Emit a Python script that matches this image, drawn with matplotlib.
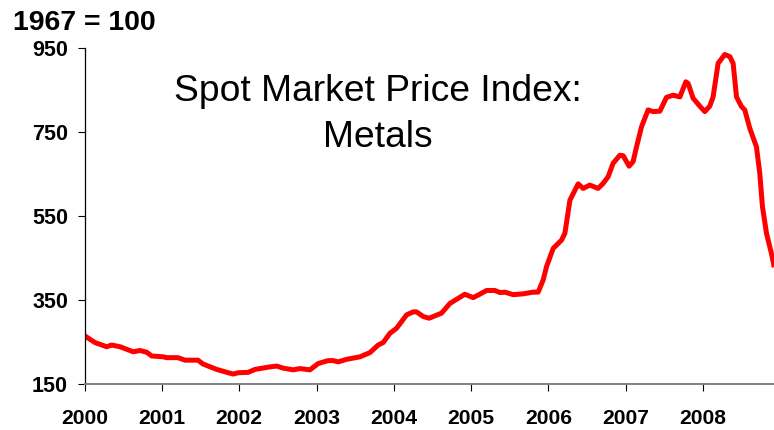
import matplotlib
matplotlib.use("Agg")
import matplotlib.pyplot as plt

plt.rcParams['font.family'] = ['Liberation Sans', 'DejaVu Sans']

# decimal year and index level (1967 = 100)
years = [2000.017, 2000.133, 2000.285, 2000.349, 2000.457, 2000.629, 2000.715,
         2000.802, 2000.867, 2001.017, 2001.061, 2001.207, 2001.298, 2001.466,
         2001.530, 2001.708, 2001.880, 2001.922, 2001.987, 2002.116, 2002.203,
         2002.397, 2002.484, 2002.569, 2002.699, 2002.785, 2002.915, 2003.022,
         2003.151, 2003.216, 2003.281, 2003.389, 2003.562, 2003.691, 2003.798,
         2003.863, 2003.950, 2004.036, 2004.166, 2004.251, 2004.295, 2004.380,
         2004.458, 2004.618, 2004.725, 2004.919, 2005.027, 2005.092, 2005.201,
         2005.308, 2005.373, 2005.437, 2005.545, 2005.674, 2005.803, 2005.868,
         2005.933, 2005.977, 2006.062, 2006.171, 2006.214, 2006.279, 2006.386,
         2006.450, 2006.537, 2006.644, 2006.709, 2006.774, 2006.838, 2006.925,
         2006.968, 2007.045, 2007.097, 2007.141, 2007.206, 2007.291, 2007.356,
         2007.443, 2007.529, 2007.615, 2007.702, 2007.779, 2007.809, 2007.873,
         2007.960, 2008.025, 2008.089, 2008.132, 2008.197, 2008.283, 2008.348,
         2008.391, 2008.435, 2008.499, 2008.542, 2008.607, 2008.693, 2008.736,
         2008.771, 2008.823, 2008.887, 2008.917]
index = [262, 248, 238, 242, 238, 226, 229, 225, 216, 214, 212, 212, 206, 206,
         197, 184, 175, 173, 176, 177, 184, 190, 192, 187, 183, 186, 183, 198,
         205, 205, 202, 208, 214, 224, 242, 248, 270, 282, 314, 321, 321, 310,
         306, 318, 341, 363, 355, 361, 372, 372, 367, 368, 362, 364, 368, 368,
         397, 429, 472, 492, 508, 587, 626, 615, 623, 615, 627, 643, 675, 694,
         693, 668, 679, 714, 762, 802, 798, 799, 832, 837, 833, 869, 865, 830,
         811, 798, 811, 833, 913, 934, 929, 913, 833, 810, 802, 758, 714, 651,
         571, 508, 460, 433]

year_ticks = list(range(2000, 2009))
value_ticks = [150, 350, 550, 750, 950]

fig = plt.figure(figsize=(7.74, 4.30), dpi=100)
ax = fig.add_axes([0.1094, 0.1077, 0.8906, 0.7812])

ax.plot(years, index, color='#ff0000', linewidth=3.6, solid_joinstyle='round')

ax.set_xlim(2000, 2008.92)
ax.set_ylim(150, 950)
ax.set_xticks(year_ticks, labels=[str(y) for y in year_ticks],
              fontsize=15.2, fontweight='bold')
ax.set_yticks(value_ticks, labels=[str(v) for v in value_ticks],
              fontsize=15.5, fontweight='bold')

ax.spines['top'].set_visible(False)
ax.spines['right'].set_visible(False)
ax.spines['left'].set_color('black')
ax.spines['left'].set_linewidth(0.9)
ax.spines['bottom'].set_color('#808080')
ax.spines['bottom'].set_linewidth(1.4)

ax.tick_params(axis='both', direction='out', length=5, width=0.8, color='black')
ax.tick_params(axis='x', pad=13)
ax.tick_params(axis='y', pad=7)

fig.text(0.017, 0.93, '1967 = 100', fontsize=20.5, fontweight='bold',
         ha='left', va='baseline')
fig.text(0.488, 0.659, 'Spot Market Price Index:\nMetals', fontsize=26.8,
         ha='center', va='baseline', multialignment='center', linespacing=1.38)

fig.savefig('out.png', dpi=100)
